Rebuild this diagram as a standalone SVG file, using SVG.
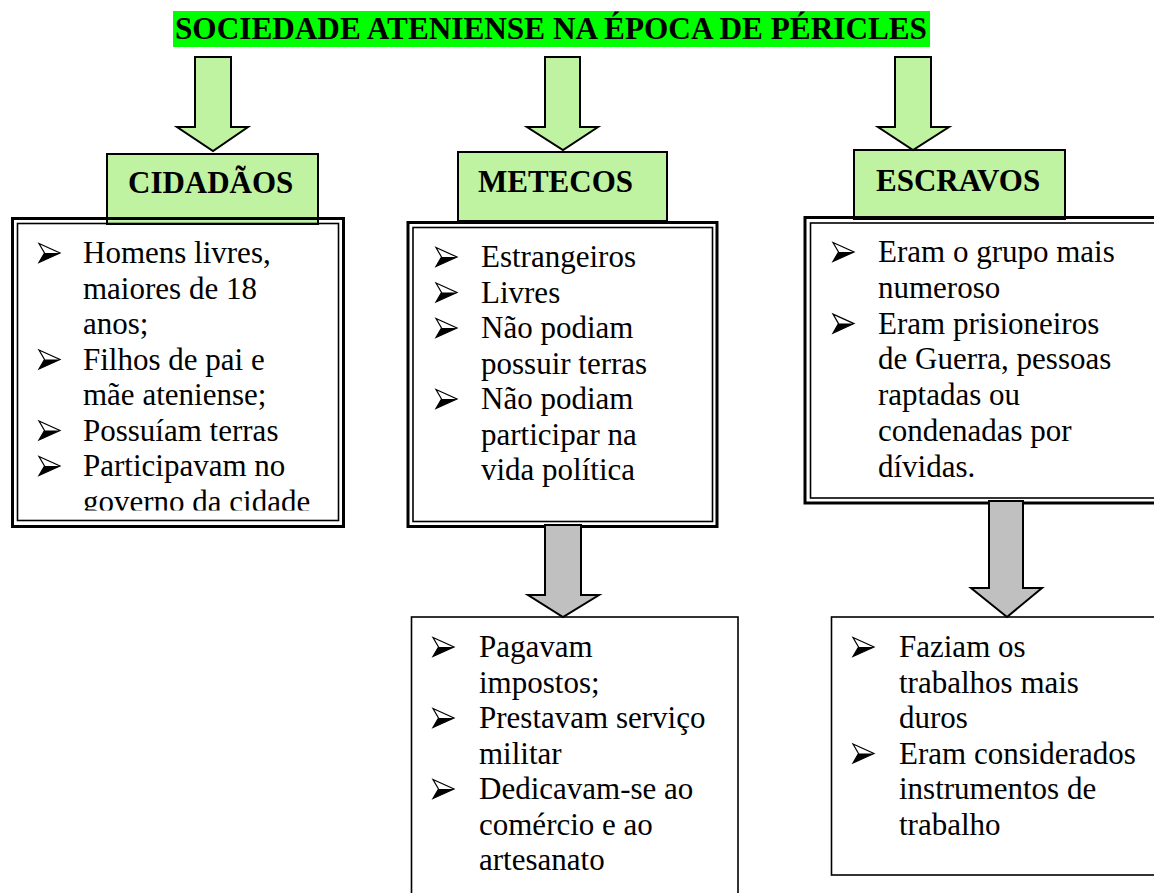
<svg xmlns="http://www.w3.org/2000/svg" xmlns:xlink="http://www.w3.org/1999/xlink" width="1154" height="893" viewBox="0 0 1154 893">
<style>
.t{font-family:"Liberation Serif","Times New Roman",serif;font-size:31px;fill:#000}
.b{font-weight:bold}
.hdr{fill:#bff3a1;stroke:#000;stroke-width:2}
.bg{fill:#fff;stroke:none}
.outer{fill:none;stroke:#000;stroke-width:3}
.inner{fill:none;stroke:#000;stroke-width:1.6}
.single{fill:#fff;stroke:#000;stroke-width:1.6}
.ga{fill:#bff3a1;stroke:#000;stroke-width:2;stroke-linejoin:miter}
.gy{fill:#c0c0c0;stroke:#000;stroke-width:2;stroke-linejoin:miter}
</style>
<defs>
<g id="bul">
<path d="M0,-9.5 L21,0 L0,9.5 L5.5,0 Z" fill="#fff" stroke="#000" stroke-width="1.2" stroke-linejoin="miter"/>
<path d="M5.5,0 L21,0 L0,9.5 Z" fill="#000"/>
</g>
<clipPath id="clip1"><rect x="17" y="223" width="322" height="287.5"/></clipPath>
</defs>
<rect width="1154" height="893" fill="#fff"/>

<g id="title">
<rect x="173" y="11" width="757" height="36" fill="#00ff00"/>
<text class="t b" x="175" y="39" textLength="752" lengthAdjust="spacingAndGlyphs">SOCIEDADE ATENIENSE NA ÉPOCA DE PÉRICLES</text>
</g>

<g id="cidadaos">
<rect class="bg" x="12.5" y="218.5" width="331" height="308"/>
<rect class="hdr" x="107" y="154" width="211" height="70"/>
<text class="t b" x="128" y="193">CIDADÃOS</text>
<rect class="outer" x="12.5" y="218.5" width="331" height="308"/>
<rect class="inner" x="17.5" y="223.5" width="321" height="297"/>
<use xlink:href="#bul" href="#bul" x="39" y="253"/>
<use xlink:href="#bul" href="#bul" x="39" y="359.5"/>
<use xlink:href="#bul" href="#bul" x="39" y="430.5"/>
<use xlink:href="#bul" href="#bul" x="39" y="466"/>
<g clip-path="url(#clip1)">
<text class="t" x="83" y="263">Homens livres,</text>
<text class="t" x="83" y="298.5">maiores de 18</text>
<text class="t" x="83" y="334">anos;</text>
<text class="t" x="83" y="369.5">Filhos de pai e</text>
<text class="t" x="83" y="405">mãe ateniense;</text>
<text class="t" x="83" y="440.5">Possuíam terras</text>
<text class="t" x="83" y="476">Participavam no</text>
<text class="t" x="83" y="511.5">governo da cidade</text>
</g>
</g>

<g id="metecos">
<rect class="bg" x="408" y="222.5" width="309" height="304"/>
<rect class="hdr" x="458" y="152" width="209" height="69"/>
<text class="t b" x="478" y="192">METECOS</text>
<rect class="outer" x="408" y="222.5" width="309" height="304"/>
<rect class="inner" x="413" y="227.5" width="299.5" height="294"/>
<use xlink:href="#bul" href="#bul" x="436" y="257"/>
<use xlink:href="#bul" href="#bul" x="436" y="292.5"/>
<use xlink:href="#bul" href="#bul" x="436" y="328"/>
<use xlink:href="#bul" href="#bul" x="436" y="399"/>
<text class="t" x="481" y="267">Estrangeiros</text>
<text class="t" x="481" y="302.5">Livres</text>
<text class="t" x="481" y="338">Não podiam</text>
<text class="t" x="481" y="373.5">possuir terras</text>
<text class="t" x="481" y="409">Não podiam</text>
<text class="t" x="481" y="444.5">participar na</text>
<text class="t" x="481" y="480">vida política</text>
</g>

<g id="escravos">
<rect class="bg" x="805" y="217.5" width="365" height="285.5"/>
<rect class="hdr" x="854" y="150" width="211" height="69"/>
<text class="t b" x="876" y="191">ESCRAVOS</text>
<rect class="outer" x="805" y="217.5" width="365" height="285.5"/>
<rect class="inner" x="810.5" y="223" width="355" height="275"/>
<use xlink:href="#bul" href="#bul" x="833" y="252"/>
<use xlink:href="#bul" href="#bul" x="833" y="323.6"/>
<text class="t" x="878" y="262">Eram o grupo mais</text>
<text class="t" x="878" y="297.8">numeroso</text>
<text class="t" x="878" y="333.6">Eram prisioneiros</text>
<text class="t" x="878" y="369.4">de Guerra, pessoas</text>
<text class="t" x="878" y="405.2">raptadas ou</text>
<text class="t" x="878" y="441">condenadas por</text>
<text class="t" x="878" y="476.8">dívidas.</text>
</g>

<g id="metecos-detalhes">
<rect class="single" x="411.5" y="617" width="326.5" height="300"/>
<use xlink:href="#bul" href="#bul" x="433" y="647"/>
<use xlink:href="#bul" href="#bul" x="433" y="718"/>
<use xlink:href="#bul" href="#bul" x="433" y="789"/>
<text class="t" x="479" y="657">Pagavam</text>
<text class="t" x="479" y="692.5">impostos;</text>
<text class="t" x="479" y="728">Prestavam serviço</text>
<text class="t" x="479" y="763.5">militar</text>
<text class="t" x="479" y="799">Dedicavam-se ao</text>
<text class="t" x="479" y="834.5">comércio e ao</text>
<text class="t" x="479" y="870">artesanato</text>
</g>

<g id="escravos-detalhes">
<rect class="single" x="831.5" y="617" width="340" height="258"/>
<use xlink:href="#bul" href="#bul" x="853" y="647"/>
<use xlink:href="#bul" href="#bul" x="853" y="753.5"/>
<text class="t" x="899" y="657">Faziam os</text>
<text class="t" x="899" y="692.5">trabalhos mais</text>
<text class="t" x="899" y="728">duros</text>
<text class="t" x="899" y="763.5">Eram considerados</text>
<text class="t" x="899" y="799">instrumentos de</text>
<text class="t" x="899" y="834.5">trabalho</text>
</g>

<g id="connectors">
<path class="ga" d="M195,57 L231,57 L231,127 L248,127 L213,151 L177,127 L195,127 Z"/>
<path class="ga" d="M545,57 L580,57 L580,127 L598,127 L563,150 L527,127 L545,127 Z"/>
<path class="ga" d="M895,57 L931,57 L931,127 L949,127 L913,150 L878,127 L895,127 Z"/>
<path class="gy" d="M545,525 L581,525 L581,595 L599,595 L563,617 L528,595 L545,595 Z"/>
<path class="gy" d="M989,501 L1023,501 L1023,588 L1042,588 L1007,617 L971,588 L989,588 Z"/>
</g>
</svg>
